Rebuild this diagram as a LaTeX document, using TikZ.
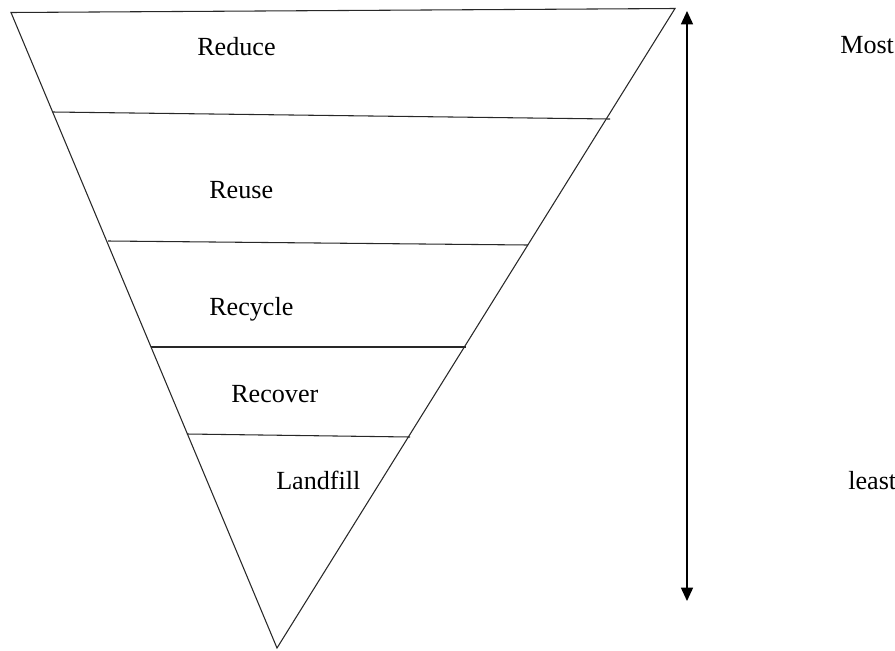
\documentclass[tikz,border=0pt]{standalone}
\usepackage{fontspec}
\setmainfont{Liberation Serif}
\usepackage{tikz}
\usetikzlibrary{arrows.meta}
\usepackage{xcolor}

\begin{document}
\begin{tikzpicture}[x=0.75pt,y=0.75pt,yscale=-1,xscale=1]
\tikzset{
  level/.style={anchor=base west, inner sep=0pt, font=\fontsize{19.6}{22}\selectfont},
  tier/.style={line width=0.8pt, draw={rgb,255:red,40;green,40;blue,40}},
}
\useasboundingbox (0,0) rectangle (895,650);

%Shape: Triangle
\coordinate (tl) at (11,12.5);
\coordinate (tr) at (675,8.5);
\coordinate (ap) at (277,648);
\draw [tier] (tl) -- (tr) -- (ap) -- cycle ;

%Straight Lines
\coordinate (a1) at (52.5,112);
\coordinate (b1) at (610,119);
\draw [tier] (a1) -- (b1) ;
%Straight Lines
\coordinate (a2) at (108,241);
\coordinate (b2) at (528,245);
\draw [tier] (a2) -- (b2) ;
%Straight Lines
\coordinate (a3) at (151,347);
\coordinate (b3) at (466,347);
\draw [tier] (a3) -- (b3) ;
%Straight Lines
\coordinate (a4) at (187,434);
\coordinate (b4) at (410,437);
\draw [tier] (a4) -- (b4) ;

%Straight Lines [arrow]
\coordinate (most) at (687,11);
\coordinate (least) at (687,601);
\draw [line width=1.1pt, {Triangle[width=9pt,length=10pt]}-{Triangle[width=9pt,length=10pt]}] (least) -- (most) ;

% Text Node
\node [level] (reduce) at (197,55) {Reduce};
% Text Node
\node [level] (reuse) at (209,198) {Reuse};
% Text Node
\node [level] (recycle) at (209,315) {Recycle};
% Text Node
\node [level] (recover) at (231,402) {Recover};
% Text Node
\node [level] (landfill) at (276,489) {Landfill};
% Text Node
\node [level] (mostlbl) at (840,53) {Most};
% Text Node
\node [level] (leastlbl) at (848,489) {least};

\end{tikzpicture}
\end{document}
